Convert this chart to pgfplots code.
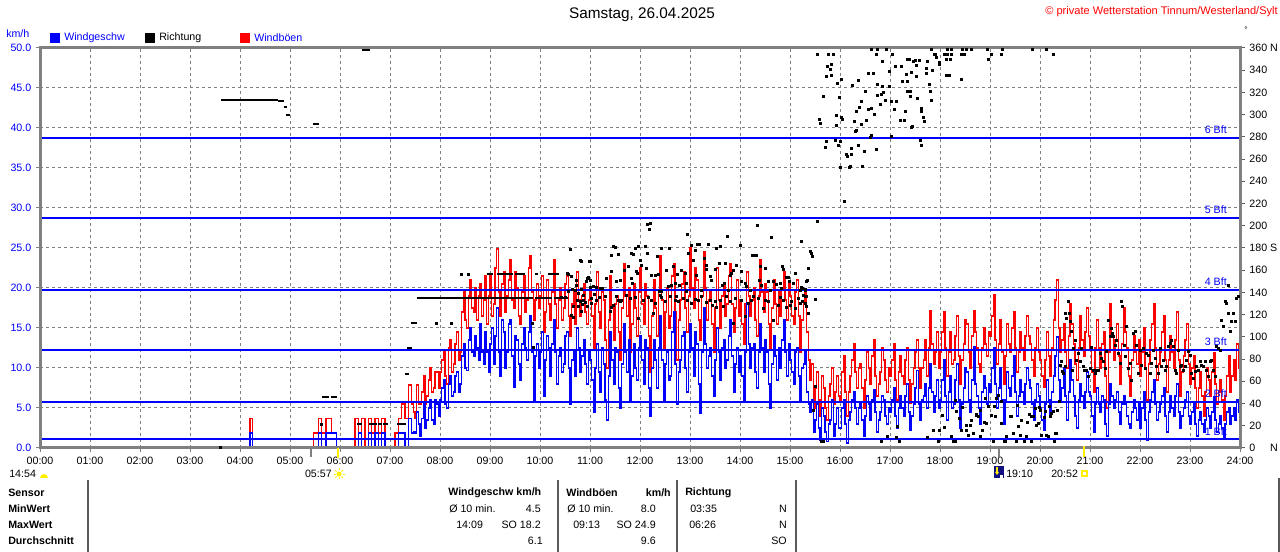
\documentclass[border=0pt]{standalone}
\usepackage{pgfplots}
\pgfplotsset{compat=1.18}
\usepackage{pgfplotstable}
\usepackage{fontspec}
\setmainfont{Liberation Sans}
\definecolor{wblue}{RGB}{0,0,255}
\definecolor{wred}{RGB}{255,0,0}
\definecolor{wgray}{RGB}{128,128,128}
\definecolor{wnavy}{RGB}{16,16,128}
\definecolor{wsun}{RGB}{255,240,0}
\definecolor{wline}{RGB}{90,90,90}

% time in minutes, gusts (r) and mean speed (b) in km/h
\pgfplotstableread[row sep=\\]{
t r b\\
0 0 0\\ 250 0 0\\ 252 3.7 1.9\\ 255 0 0\\ 326 0 0\\
328 1.9 0\\ 334 3.7 1.9\\ 338 1.9 0\\ 343 3.7 1.9\\ 350 1.9 1.9\\ 356 0 0\\
378 3.7 0\\ 382 1.9 1.9\\ 386 3.7 0\\ 390 0 0\\ 394 3.7 1.9\\ 398 1.9 0\\ 402 3.7 1.9\\ 406 1.9 0\\ 410 3.7 1.9\\ 414 0 0\\
426 1.9 0\\ 430 3.7 1.9\\ 434 5.5 1.9\\ 438 3.7 0\\ 442 7.9 3.7\\ 446 5.5 1.9\\
448 4.5 2.0\\ 450 3.7 1.9\\ 452 7.9 4.5\\ 454 5.5 3.0\\ 456 5.5 1.5\\ 458 7.0 3.7\\ 460 9.0 5.5\\ 462 5.5 2.5\\ 464 6.5 3.5\\ 466 8.5 5.0\\ 468 10.0 6.0\\ 470 7.0 3.5\\ 472 7.5 3.0\\ 474 9.5 6.0\\ 476 9.5 5.5\\ 478 7.5 4.0\\
480 9.5 6.0\\ 482 11.0 7.5\\ 484 12.2 8.5\\ 486 9.0 5.5\\ 488 8.0 5.0\\ 490 12.5 8.0\\ 492 13.5 9.0\\ 494 9.5 6.5\\ 496 10.5 7.0\\ 498 13.0 9.0\\ 500 14.5 9.5\\ 502 11.0 7.0\\ 504 12.0 8.0\\ 506 17.0 11.5\\ 508 19.5 13.0\\ 510 16.0 10.0\\ 512 15.0 9.7\\ 514 19.0 13.5\\ 516 21.0 15.0\\ 518 17.5 12.0\\ 520 17.0 11.5\\ 522 20.0 14.0\\ 524 16.0 12.5\\ 526 19.0 11.0\\ 528 20.5 15.5\\ 530 16.5 12.0\\ 532 18.5 10.5\\ 534 21.5 14.5\\ 536 15.5 12.0\\ 538 19.0 9.5\\
540 21.5 13.0\\ 542 16.5 15.0\\ 544 18.0 10.5\\ 546 22.5 14.0\\ 548 24.9 17.5\\ 550 19.5 12.0\\ 552 16.5 9.0\\ 554 20.5 16.0\\ 556 22.0 14.5\\ 558 17.0 10.0\\ 560 19.0 12.0\\ 562 21.0 15.5\\ 564 23.5 16.0\\ 566 18.5 11.5\\ 568 17.5 7.6\\ 570 22.0 14.0\\ 572 20.0 13.5\\ 574 16.5 10.5\\ 576 15.5 8.5\\ 578 19.5 13.0\\ 580 21.5 15.0\\ 582 17.0 12.5\\ 584 18.5 11.0\\ 586 22.5 14.5\\ 588 24.0 16.5\\ 590 19.5 12.0\\ 592 16.0 5.7\\ 594 18.5 11.5\\ 596 20.5 13.0\\ 598 17.5 10.0\\
600 19.0 12.0\\ 602 21.5 14.5\\ 604 14.5 6.5\\ 606 17.0 11.0\\ 608 21.0 14.0\\ 610 18.0 12.5\\ 612 16.0 9.0\\ 614 19.5 13.0\\ 616 23.5 16.0\\ 618 18.0 12.0\\ 620 15.0 8.0\\ 622 18.5 11.5\\ 624 20.0 12.5\\ 626 16.0 9.5\\ 628 17.5 10.5\\ 630 20.5 14.0\\ 632 21.5 14.5\\ 634 16.5 10.0\\ 636 14.0 5.5\\ 638 18.0 11.0\\ 640 19.5 12.0\\ 642 15.5 9.0\\ 644 22.0 15.0\\ 646 18.5 12.5\\ 648 16.5 9.5\\ 650 19.0 11.5\\ 652 20.5 13.5\\ 654 17.0 10.5\\ 656 15.5 8.0\\ 658 18.5 12.0\\
660 20.0 11.0\\ 662 16.5 8.5\\ 664 12.5 4.5\\ 666 18.0 10.0\\ 668 22.0 13.0\\ 670 17.0 9.5\\ 672 15.0 7.0\\ 674 19.5 12.5\\ 676 18.5 10.5\\ 678 13.5 6.0\\ 680 10.0 3.5\\ 682 16.0 9.0\\ 684 21.5 14.5\\ 686 17.5 11.0\\ 688 13.5 8.0\\ 690 18.0 12.5\\ 692 19.0 12.0\\ 694 14.5 7.5\\ 696 11.0 5.0\\ 698 17.5 10.5\\ 700 23.0 15.5\\ 702 19.0 12.0\\ 704 16.5 9.5\\ 706 20.0 13.5\\ 708 12.0 6.0\\ 710 15.5 9.0\\ 712 20.5 13.0\\ 714 17.5 10.0\\ 716 14.0 8.5\\ 718 19.5 12.5\\
720 22.5 14.0\\ 722 18.0 11.0\\ 724 15.5 8.0\\ 726 20.5 13.5\\ 728 19.0 12.5\\ 730 14.0 7.5\\ 732 9.5 4.0\\ 734 16.5 10.0\\ 736 21.0 13.5\\ 738 17.5 11.0\\ 740 14.0 7.5\\ 742 19.5 12.5\\ 744 24.0 16.5\\ 746 18.5 11.0\\ 748 12.5 6.0\\ 750 17.0 10.5\\ 752 20.0 12.0\\ 754 15.0 8.5\\ 756 16.5 9.0\\ 758 21.5 14.5\\ 760 23.0 17.0\\ 762 17.0 10.5\\ 764 11.0 5.5\\ 766 16.0 9.5\\ 768 18.5 11.0\\ 770 20.5 14.0\\ 772 22.0 14.5\\ 774 17.5 10.0\\ 776 14.5 7.0\\ 778 19.0 12.0\\
780 25.0 15.5\\ 782 20.0 12.5\\ 784 17.5 9.0\\ 786 22.5 14.5\\ 788 21.0 13.0\\ 790 16.0 8.0\\ 792 13.5 4.4\\ 794 19.0 12.0\\ 796 24.5 17.5\\ 798 20.0 13.0\\ 800 16.0 10.0\\ 802 18.5 11.5\\ 804 19.5 12.5\\ 806 15.5 9.0\\ 808 12.0 6.5\\ 810 17.5 11.0\\ 812 22.5 15.0\\ 814 18.5 12.0\\ 816 15.0 8.5\\ 818 19.0 12.5\\ 820 20.5 13.5\\ 822 16.5 10.0\\ 824 18.0 11.0\\ 826 21.5 14.0\\ 828 23.0 16.0\\ 830 18.0 11.5\\ 832 14.5 7.0\\ 834 17.5 10.5\\ 836 21.0 12.5\\ 838 16.5 9.5\\
840 18.5 11.5\\ 842 15.5 9.0\\ 844 13.0 6.0\\ 846 18.0 12.0\\ 848 22.0 18.2\\ 850 19.0 13.0\\ 852 16.5 10.0\\ 854 18.5 12.5\\ 856 20.0 13.0\\ 858 16.0 9.5\\ 860 14.0 7.5\\ 862 19.0 12.0\\ 864 23.5 15.5\\ 866 19.5 12.5\\ 868 17.0 9.5\\ 870 20.5 13.5\\ 872 19.5 12.0\\ 874 15.5 8.0\\ 876 12.5 5.0\\ 878 17.5 10.5\\ 880 21.0 14.0\\ 882 18.0 11.5\\ 884 15.5 8.5\\ 886 19.5 12.5\\ 888 16.5 10.0\\ 890 20.0 13.5\\ 892 22.0 16.0\\ 894 18.5 12.0\\ 896 16.0 9.0\\ 898 20.5 13.0\\
900 19.0 11.0\\ 902 16.5 9.5\\ 904 15.5 8.0\\ 906 19.5 12.0\\ 908 21.0 12.5\\ 910 16.5 9.0\\ 912 12.0 6.0\\ 914 16.0 10.0\\ 916 18.0 10.5\\ 918 19.5 12.0\\ 920 14.5 7.0\\ 922 11.0 5.5\\ 924 8.5 4.5\\ 926 10.5 6.0\\ 928 5.0 2.0\\ 930 7.5 3.5\\ 932 9.5 5.5\\ 934 6.0 2.5\\ 936 4.0 1.0\\ 938 9.0 5.0\\ 940 7.5 4.0\\ 942 5.0 2.0\\ 944 3.5 0.8\\ 946 6.5 3.0\\ 948 8.0 3.5\\ 950 10.0 6.0\\ 952 5.5 1.5\\ 954 7.0 3.0\\ 956 9.0 5.0\\ 958 6.5 2.5\\
960 6.0 2.5\\ 962 9.5 5.0\\ 964 11.5 6.0\\ 966 7.0 3.0\\ 968 4.0 0.6\\ 970 7.0 3.5\\ 972 9.0 4.5\\ 974 11.0 6.0\\ 976 13.0 7.0\\ 978 9.5 5.0\\ 980 7.5 3.0\\ 982 10.0 5.0\\ 984 10.5 5.5\\ 986 7.5 3.5\\ 988 5.0 1.5\\ 990 8.5 4.0\\ 992 12.0 6.5\\ 994 10.0 5.5\\ 996 8.0 3.5\\ 998 11.5 6.0\\ 1000 13.5 7.3\\ 1002 9.0 4.5\\ 1004 6.5 2.0\\ 1006 8.0 3.5\\ 1008 9.5 4.5\\ 1010 12.5 6.5\\ 1012 11.0 6.0\\ 1014 8.5 4.0\\ 1016 7.0 3.0\\ 1018 10.0 5.0\\
1020 9.0 4.5\\ 1022 11.0 6.0\\ 1024 13.0 7.5\\ 1026 8.5 4.0\\ 1028 6.0 2.5\\ 1030 9.5 5.0\\ 1032 11.5 6.5\\ 1034 9.0 5.0\\ 1036 8.0 4.0\\ 1038 11.0 6.5\\ 1040 12.5 8.0\\ 1042 8.5 4.5\\ 1044 5.6 2.2\\ 1046 8.0 4.0\\ 1048 10.0 5.5\\ 1050 12.0 7.5\\ 1052 13.5 9.7\\ 1054 10.0 5.5\\ 1056 7.5 3.5\\ 1058 10.0 6.0\\ 1060 11.0 6.5\\ 1062 13.5 8.0\\ 1064 9.0 5.0\\ 1066 12.5 7.5\\ 1068 17.2 10.5\\ 1070 13.0 7.0\\ 1072 10.5 4.5\\ 1074 12.0 6.5\\ 1076 14.5 8.5\\ 1078 10.0 5.0\\
1080 12.0 6.0\\ 1082 14.5 8.5\\ 1084 17.0 11.0\\ 1086 12.5 6.5\\ 1088 9.0 3.5\\ 1090 12.0 7.0\\ 1092 14.5 9.0\\ 1094 10.5 5.0\\ 1096 11.0 5.5\\ 1098 14.0 8.5\\ 1100 16.5 10.5\\ 1102 11.5 6.0\\ 1104 8.0 2.5\\ 1106 11.0 5.5\\ 1108 13.0 7.5\\ 1110 16.0 10.0\\ 1112 15.5 9.5\\ 1114 12.0 6.0\\ 1116 10.0 4.5\\ 1118 14.0 8.5\\ 1120 17.2 12.6\\ 1122 14.5 8.0\\ 1124 12.5 6.5\\ 1126 10.5 5.0\\ 1128 9.5 3.0\\ 1130 12.5 7.0\\ 1132 15.0 9.0\\ 1134 13.0 7.5\\ 1136 11.5 5.5\\ 1138 14.5 8.0\\
1140 14.0 7.0\\ 1142 16.5 10.0\\ 1144 19.1 12.5\\ 1146 13.5 8.0\\ 1148 10.5 5.0\\ 1150 13.0 7.5\\ 1152 16.0 10.0\\ 1154 12.0 6.0\\ 1156 8.0 3.0\\ 1158 11.5 6.0\\ 1160 15.5 9.5\\ 1162 13.0 7.5\\ 1164 12.0 6.5\\ 1166 15.0 9.0\\ 1168 17.0 11.5\\ 1170 12.5 7.0\\ 1172 9.5 4.0\\ 1174 12.0 6.5\\ 1176 14.5 8.5\\ 1178 12.5 7.0\\ 1180 11.0 5.5\\ 1182 14.0 8.0\\ 1184 16.5 10.0\\ 1186 14.0 8.5\\ 1188 13.0 7.5\\ 1190 11.0 5.5\\ 1192 9.0 3.5\\ 1194 12.5 6.0\\ 1196 15.0 8.0\\ 1198 12.0 6.5\\
1200 11.0 5.0\\ 1202 9.0 3.5\\ 1204 7.6 2.2\\ 1206 11.0 5.5\\ 1208 14.5 8.5\\ 1210 11.5 6.0\\ 1212 9.0 4.0\\ 1214 12.5 7.0\\ 1216 16.0 9.0\\ 1218 18.5 11.5\\ 1220 21.0 13.9\\ 1222 15.0 8.5\\ 1224 12.0 6.0\\ 1226 13.5 7.5\\ 1228 15.5 10.0\\ 1230 12.0 6.5\\ 1232 10.0 3.5\\ 1234 14.0 7.0\\ 1236 18.0 11.0\\ 1238 15.5 8.5\\ 1240 13.0 6.5\\ 1242 10.5 4.0\\ 1244 8.5 2.5\\ 1246 12.5 6.0\\ 1248 16.5 8.0\\ 1250 13.5 6.5\\ 1252 11.5 5.0\\ 1254 14.5 7.0\\ 1256 17.5 9.5\\ 1258 14.0 7.0\\
1260 12.5 6.5\\ 1262 9.5 4.0\\ 1264 7.0 2.0\\ 1266 12.5 5.5\\ 1268 16.0 7.5\\ 1270 12.5 5.5\\ 1272 10.0 4.5\\ 1274 13.0 6.5\\ 1276 14.5 6.0\\ 1278 9.0 3.0\\ 1280 5.0 1.5\\ 1282 12.0 5.5\\ 1284 18.0 8.0\\ 1286 14.0 6.5\\ 1288 11.0 5.0\\ 1290 13.5 6.0\\ 1292 15.5 7.0\\ 1294 11.5 4.5\\ 1296 8.0 3.0\\ 1298 13.0 5.5\\ 1300 17.5 6.5\\ 1302 14.5 5.5\\ 1304 12.5 4.0\\ 1306 9.0 3.0\\ 1308 6.5 2.5\\ 1310 11.0 4.5\\ 1312 14.0 6.0\\ 1314 12.0 5.0\\ 1316 10.5 3.5\\ 1318 13.5 5.5\\
1320 9.0 2.5\\ 1322 12.0 5.0\\ 1324 15.0 7.0\\ 1326 10.0 3.5\\ 1328 6.0 1.0\\ 1330 10.5 4.5\\ 1332 13.5 6.0\\ 1334 15.5 7.0\\ 1336 18.0 8.5\\ 1338 12.5 5.5\\ 1340 8.5 3.5\\ 1342 10.5 4.5\\ 1344 12.0 5.5\\ 1346 14.5 6.5\\ 1348 16.5 7.5\\ 1350 11.0 4.0\\ 1352 7.0 2.0\\ 1354 11.0 4.5\\ 1356 14.0 6.5\\ 1358 12.0 5.0\\ 1360 10.0 4.0\\ 1362 13.5 6.5\\ 1364 17.0 8.0\\ 1366 11.0 4.5\\ 1368 6.5 2.5\\ 1370 9.5 4.0\\ 1372 11.5 5.0\\ 1374 13.5 6.0\\ 1376 15.5 7.0\\ 1378 10.5 4.0\\
1380 8.0 3.0\\ 1382 10.0 4.5\\ 1384 11.5 5.5\\ 1386 7.5 3.0\\ 1388 5.0 1.5\\ 1390 7.5 3.5\\ 1392 9.5 4.5\\ 1394 6.5 3.0\\ 1396 4.0 2.0\\ 1398 7.0 3.5\\ 1400 10.0 5.0\\ 1402 8.5 4.0\\ 1404 6.5 2.5\\ 1406 9.5 4.5\\ 1408 11.9 6.4\\ 1410 8.0 3.5\\ 1412 5.5 2.0\\ 1414 7.0 3.0\\ 1416 8.5 4.0\\ 1418 6.0 2.5\\ 1420 3.5 1.4\\ 1422 6.5 3.0\\ 1424 9.0 4.5\\ 1426 11.5 5.0\\ 1428 7.0 3.0\\ 1430 9.0 4.0\\ 1432 11.0 5.0\\ 1434 8.5 3.5\\ 1436 13.0 6.0\\ 1438 10.0 4.5\\ 1440 10.0 4.5\\
}\windtab

% time in minutes, wind direction in degrees (single readings)
\pgfplotstableread[row sep=\\]{
t d\\
216 1\\ 338 21.6\\ 476 112.2\\ 494 112.2\\ 506 156.6\\ 514 156.6\\ 592 90.3\\ 590.8 112.2\\
648.8 168.6\\ 659.2 167.7\\ 634 156.3\\ 638 154.8\\ 643.2 150.6\\ 644 146.1\\ 639.2 143.1\\ 650 143.1\\ 656 149.7\\ 658 153.3\\ 660 151.2\\ 664 145.2\\ 668 144.3\\ 642 142.2\\ 646 139.2\\ 652 137.7\\ 645.2 132.6\\ 654 131.1\\ 651.2 129.6\\ 656.8 127.2\\ 662 134.7\\ 667.2 133.2\\ 638 119.7\\ 640 117.6\\ 649.2 123.3\\
636 179.1\\ 649.2 168.3\\ 633.2 157.2\\ 655.2 149.7\\ 660 167.7\\ 657.2 152.7\\ 660.8 144.3\\ 667.2 144.3\\ 672 143.7\\ 674.8 143.7\\ 680 152.7\\ 686 159.3\\ 688 181.2\\ 690 180.6\\ 685.2 173.1\\ 694 174.3\\ 692 149.7\\ 696 150.6\\ 701.2 160.2\\ 706 163.2\\ 710 175.2\\ 712 174.6\\ 714 179.7\\ 716 158.7\\ 718 181.2\\ 710 152.7\\ 711.2 148.2\\ 716.8 157.2\\ 720 168.6\\ 721.2 164.7\\ 726 181.8\\ 727.2 161.7\\ 728.8 175.2\\ 731.2 196.8\\ 728.8 201.6\\ 732 202.2\\ 734 155.7\\ 738 155.7\\ 740.8 172.2\\ 742 156.3\\ 745.2 179.7\\ 743.2 141.3\\ 745.2 141.3\\ 752 160.2\\ 755.2 179.7\\ 754 145.2\\ 758 146.1\\ 760 163.2\\ 762 148.2\\ 765.2 156.3\\ 767.2 146.7\\ 770 160.2\\ 774 157.2\\ 775.2 148.2\\ 777.2 192.6\\ 778 175.2\\ 776 140.7\\ 781.2 182.7\\ 784 169.2\\ 786 178.2\\ 788 155.7\\ 789.2 183\\ 791.2 183.3\\ 794 142.2\\ 796.8 170.7\\ 800 164.7\\ 799.2 160.8\\ 802 183.3\\ 804.8 154.2\\ 806 151.2\\ 810 160.8\\ 812 179.7\\ 815.2 166.2\\ 816 181.2\\ 818.8 146.7\\ 821.2 148.2\\ 822 166.2\\ 825.2 190.2\\ 826 142.2\\ 828 155.7\\ 830 157.2\\ 832 160.2\\ 836 164.7\\ 840 182.1\\ 842 158.7\\ 841.2 149.7\\ 846 148.2\\ 848 145.8\\ 852.8 142.2\\ 855.2 173.1\\ 858 173.7\\ 860 173.7\\ 861.2 200.1\\ 863.2 151.2\\ 866 146.7\\ 864 163.2\\ 870 161.7\\ 874 149.7\\ 876 142.2\\ 878 189.3\\ 880 149.7\\ 884 147.3\\ 888 148.2\\ 890 143.7\\ 891.2 163.2\\ 892 160.8\\ 896 153.6\\ 898 153.3\\ 899.2 149.7\\ 904 148.2\\ 906 157.2\\ 912 142.2\\ 914 186.3\\ 915.2 143.7\\ 918 143.1\\ 920 150.3\\ 922 161.7\\ 924 176.7\\ 926 175.2\\ 926.8 172.8\\ 933.2 203.7\\
626 135.3\\ 630 135.3\\ 634 140.7\\ 640 127.2\\ 646 127.2\\ 648 132.3\\ 652 133.2\\ 662 130.2\\ 665.2 138.6\\ 671.2 135.3\\ 678 136.2\\ 684 122.7\\ 686 126.6\\ 688 128.1\\ 692 136.2\\ 694 133.2\\ 696 131.7\\ 698 133.2\\ 704 137.7\\ 708 134.7\\ 714 135.3\\ 718 116.7\\ 724 133.2\\ 730 135.3\\ 734 133.2\\ 736 121.2\\ 738 130.2\\ 744 137.7\\ 746 135.6\\ 750 131.7\\ 756 136.2\\ 762 133.2\\ 764 136.2\\ 766 132.3\\ 772 134.7\\ 777.2 133.2\\ 782 130.2\\ 786 133.8\\ 790 133.2\\ 794 136.2\\ 800 130.8\\ 804 133.2\\ 807.2 128.7\\ 810 131.7\\ 812 126.6\\ 816 133.2\\ 820 127.2\\ 824 136.2\\ 828 131.7\\ 832 112.2\\ 834 134.7\\ 842 132.6\\ 846 118.2\\ 850 130.2\\ 854 133.2\\ 856 136.8\\ 862 134.7\\ 868 125.7\\ 870 133.2\\ 874 131.7\\ 880 115.2\\ 886 128.7\\ 888 135.6\\ 892 133.2\\ 896 126.6\\ 900 128.7\\ 902 131.7\\ 906 125.7\\ 910 134.7\\ 912 130.2\\ 918 136.2\\ 920 127.2\\ 922 121.2\\ 930 134.1\\
914 144.3\\ 916 137.7\\ 918 142.2\\ 920 136.2\\ 920.8 150.6\\ 922 121.2\\ 918 130.2\\ 915.2 131.7\\ 930 133.8\\ 930 55.2\\ 928 34.2\\
938 5.7\\ 940 5.7\\ 1010 5.7\\ 1017.2 10.2\\ 1029.2 19.2\\ 1031.2 5.7\\ 1027.2 9.3\\ 1065.2 9.3\\ 1072 15.6\\ 1077.6 6\\ 1078.8 15.6\\ 1083.2 29.1\\ 1085.2 18.6\\ 1094 10.2\\ 1096 5.7\\ 1098 5.7\\ 1098.8 43.2\\ 1100 32.7\\ 1103.2 26.7\\ 1106 15.6\\ 1107.2 36.6\\ 1111.2 16.2\\ 1112 20.7\\ 1114 11.1\\ 1116 20.4\\ 1118 25.2\\ 1120 13.2\\ 1123.2 29.1\\ 1124 30.6\\ 1126 28.2\\ 1128 10.8\\ 1128.8 34.2\\ 1131.2 16.2\\ 1132.8 22.8\\ 1134 44.7\\ 1136 22.2\\ 1138 37.2\\ 1141.2 29.7\\ 1144 5.7\\ 1145.2 37.2\\ 1146.8 28.2\\ 1148 44.7\\ 1150 47.7\\ 1153.2 22.2\\ 1154 41.7\\ 1157.2 5.7\\ 1158.8 5.7\\ 1160 10.2\\ 1164 28.8\\ 1165.2 28.2\\ 1168 13.2\\ 1171.2 5.7\\ 1172.8 38.7\\ 1174 19.2\\ 1176 11.1\\ 1178 25.2\\ 1180.8 5.7\\ 1184 10.2\\ 1185.2 22.8\\ 1187.2 30.3\\ 1189.2 28.2\\ 1190 5.7\\ 1194 35.7\\ 1196 20.7\\ 1198 22.2\\ 1199.2 36.6\\
1192 28.8\\ 1200 34.2\\ 1202 11.1\\ 1205.2 27.3\\ 1206.8 32.7\\ 1208 11.7\\ 1210 10.2\\ 1210.8 37.2\\ 1212 28.2\\ 1214 31.2\\ 1216 32.7\\ 1216.8 5.7\\ 1218 13.2\\ 1219.2 13.2\\ 1221.2 34.2\\ 1222.8 41.7\\ 1224 74.7\\ 1226 77.7\\ 1226.8 68.7\\ 1228 67.2\\ 1230 73.2\\ 1230.8 121.2\\ 1232 116.7\\ 1234 132.3\\ 1234.8 121.2\\ 1236 113.7\\ 1238 104.7\\ 1238.8 70.2\\ 1240 89.7\\ 1242 97.2\\ 1244 79.2\\ 1246 85.2\\ 1248 77.7\\ 1250 89.7\\ 1252 73.2\\ 1253.2 70.2\\ 1256 70.2\\ 1258 64.2\\ 1260 71.7\\ 1262 90.6\\ 1264 70.2\\ 1266 67.2\\ 1268 70.2\\ 1270 70.2\\ 1272 85.2\\ 1274 80.7\\ 1276 77.7\\ 1278 71.7\\ 1280 86.7\\ 1282 115.2\\ 1284 100.2\\ 1285.2 107.7\\ 1286.8 103.2\\ 1288 100.2\\ 1290 92.7\\ 1292 97.2\\ 1294 85.2\\ 1296 76.2\\ 1298 131.7\\ 1299.2 127.2\\ 1300.8 92.7\\ 1302 82.2\\ 1304 109.2\\ 1306 71.7\\ 1308 76.2\\ 1310 61.2\\ 1312 103.2\\ 1314 104.7\\ 1316 92.7\\ 1318 67.2\\ 1320 88.2\\ 1322 74.7\\ 1324 89.7\\ 1326 71.7\\ 1328 85.2\\ 1330 83.7\\ 1332 67.2\\ 1334 76.2\\ 1336 88.2\\ 1338 80.7\\ 1340 73.2\\ 1342 67.2\\ 1344 89.7\\ 1346 73.2\\ 1348 79.2\\ 1350 70.2\\ 1352 73.2\\ 1354 91.2\\ 1356 94.2\\ 1358 97.2\\ 1360 91.2\\ 1362 70.2\\ 1364 67.2\\ 1366 88.2\\ 1368 73.2\\ 1370 74.7\\ 1372 70.2\\ 1374 73.2\\ 1376 79.2\\ 1378 86.7\\ 1380 83.7\\ 1382 67.2\\ 1384 62.7\\ 1386 68.7\\ 1388 73.2\\ 1390 70.2\\ 1392 77.7\\ 1394 74.7\\ 1396 73.2\\ 1398 77.7\\ 1400 70.2\\ 1402 64.2\\ 1404 77.7\\ 1406 79.2\\ 1408 70.2\\ 1410 64.2\\ 1412 91.2\\ 1414 89.7\\ 1416 88.2\\ 1418 115.2\\ 1420 109.2\\ 1422 131.7\\ 1424 130.2\\ 1426 121.2\\ 1428 104.7\\ 1430 113.7\\ 1432 121.2\\ 1434 113.7\\ 1436 134.7\\ 1438 136.2\\ 1426 146.7\\
933.2 354.6\\ 946 354.6\\ 952 354.6\\ 945.2 343.8\\ 950 345.6\\ 948 341.1\\ 944 334.2\\ 949.2 335.7\\ 962 331.8\\ 957.2 327.9\\ 940 316.8\\ 959.2 315.3\\ 975.2 326.1\\ 982 331.2\\ 990 321.3\\ 985.2 312.3\\ 983.2 306.3\\ 980 302.7\\ 994 305.1\\ 998 306\\ 1001.2 300\\ 992 295.2\\ 986 291.3\\ 976.8 293.7\\ 962 297.3\\ 963.2 296.1\\ 956 299.7\\ 955.2 290.1\\ 934.8 296.1\\ 936 291.9\\ 979.2 286.2\\ 978 284.7\\ 997.2 281.7\\ 996 279.6\\ 943.2 275.7\\ 954 276.6\\ 960 275.7\\ 942 270.9\\ 958 272.7\\ 974 270\\ 982 272.7\\ 988.8 266.7\\ 1003.2 269.1\\ 968 264.3\\ 974 264.6\\ 968.8 262.2\\ 960.8 252.3\\ 971.2 252.6\\ 972.8 253.2\\ 987.2 253.8\\ 965.2 222.3\\
997.2 359.1\\ 1004.8 359.1\\ 1016 359.1\\ 1004 354.6\\ 1010.4 348.3\\ 1023.2 354.6\\ 1026 343.2\\ 1034 343.2\\ 1018.8 338.7\\ 994 336.9\\ 1000 336.9\\ 1005.2 327.3\\ 1011.2 325.2\\ 1019.2 325.2\\ 1012 320.1\\ 1009.2 318.6\\ 1005.2 317.1\\ 1014 313.2\\ 1022 311.7\\ 1028 312.3\\ 1008 309.3\\ 1025.2 304.5\\ 1038 302.7\\ 1032.8 294.6\\ 1036.8 294.6\\ 1047.2 289.8\\ 1046 288.3\\ 1022 280.2\\ 1039.2 336.6\\ 1035.2 329.7\\ 1041.2 329.7\\ 1045.2 338.1\\ 1051.2 334.8\\ 1048 347.7\\ 1050 348.6\\ 1054.8 349.2\\ 1041.2 350.1\\ 1043.2 350.1\\ 1051.2 344.1\\ 1063.2 342\\ 1065.2 347.7\\ 1071.2 340.2\\ 1063.2 337.2\\ 1076 351.6\\ 1079.2 345.3\\ 1079.2 346.8\\ 1072.8 354.6\\ 1074.8 354.6\\ 1067.2 327.3\\ 1068 321.3\\ 1069.2 313.2\\ 1053.2 314.7\\ 1044 316.2\\ 1041.2 320.7\\ 1044.8 321.3\\ 1058 305.7\\ 1058 303.3\\ 1060 297.3\\ 1060.8 294.3\\ 1056 277.2\\ 1057.2 272.7\\ 1084.8 354.6\\ 1089.2 354.6\\ 1093.2 354.6\\ 1088 349.8\\ 1092 350.1\\ 1087.2 335.1\\ 1090.8 335.1\\ 1105.2 354.6\\ 1109.2 354.6\\ 1106 331.8\\ 1138.4 349.8\\ 1142 354.6\\ 1154 354.6\\ 1216.4 354.6\\
1070 359.1\\ 1089.2 359.1\\ 1094 359.1\\ 1107.2 359.1\\ 1112 359.1\\ 1118 359.1\\ 1137.2 359.1\\ 1155.2 359.1\\ 1191.2 359.1\\ 1208 359.1\\
}\dirtab

\pgfplotsset{seg/.style={draw=black, line width=1.5pt, forget plot},
  bft/.style={draw=wblue, line width=1.2pt, forget plot}}

\begin{document}
\begin{tikzpicture}[font=\fontsize{8}{9.6}\selectfont]
\path[use as bounding box] (0pt,0pt) rectangle (960pt,414pt);

% ---------- speed axis ----------
\begin{axis}[
  at={(30pt,78pt)}, anchor=south west, scale only axis,
  width=900pt, height=300pt,
  xmin=0, xmax=1440, ymin=0, ymax=50,
  axis line style={draw=none},
  xtick={0,60,...,1440},
  xticklabels={00:00,01:00,02:00,03:00,04:00,05:00,06:00,07:00,08:00,09:00,10:00,11:00,12:00,13:00,14:00,15:00,16:00,17:00,18:00,19:00,20:00,21:00,22:00,23:00,24:00},
  ytick={0,5,...,50},
  yticklabel style={text=wblue, /pgf/number format/fixed, /pgf/number format/fixed zerofill, /pgf/number format/precision=1},
  /pgf/number format/assume math mode=true,
  tick pos=left, tick align=outside, major tick length=3pt,
  tick style={draw=wgray, line width=0.75pt},
  grid=major, major grid style={dash pattern=on 2.25pt off 2.25pt, draw=wgray, line width=0.75pt},
]
% gusts and mean speed
\addplot[const plot, draw=wred, line width=1.125pt, mark=none] table[x=t, y=r] {\windtab};
\addplot[const plot, draw=wblue, line width=1.125pt, mark=none] table[x=t, y=b] {\windtab};
% Beaufort limits
\addplot[bft] coordinates {(0,38.75) (1440,38.75)};
\addplot[bft] coordinates {(0,28.75) (1440,28.75)};
\addplot[bft] coordinates {(0,19.75) (1440,19.75)};
\addplot[bft] coordinates {(0,12.25) (1440,12.25)};
\addplot[bft] coordinates {(0,5.75) (1440,5.75)};
\addplot[bft] coordinates {(0,1.125) (1440,1.125)};
\end{axis}

% ---------- direction axis ----------
\begin{axis}[
  at={(30pt,78pt)}, anchor=south west, scale only axis,
  width=900pt, height=300pt,
  xmin=0, xmax=1440, ymin=0, ymax=360,
  axis x line=none, axis y line*=right,
  axis line style={draw=none},
  ytick={0,20,...,360},
  yticklabels={\makebox[15.5pt][l]{0}N,20,40,60,80,100,120,140,160,\makebox[15.5pt][l]{180}S,200,220,240,260,280,300,320,340,\makebox[15.5pt][l]{360}N},
  tick align=outside, major tick length=3.5pt,
  tick style={draw=wline, line width=0.75pt},
  clip=false,
]
\addplot[only marks, mark=square*, mark size=0.75pt, draw=black, fill=black] table[x=t, y=d] {\dirtab};
\addplot[seg] coordinates {(217,313.5) (286,313.5)};
\addplot[seg] coordinates {(286,312) (293,312)};
\addplot[seg] coordinates {(293,307) (296,307)};
\addplot[seg] coordinates {(295,300) (300,300)};
\addplot[seg] coordinates {(328,291.6) (335,291.6)};
\addplot[seg] coordinates {(386,358.5) (396,358.5)};
\addplot[seg] coordinates {(338,45.6) (347,45.6)};
\addplot[seg] coordinates {(349,45.6) (356,45.6)};
\addplot[seg] coordinates {(380,21.6) (386,21.6)};
\addplot[seg] coordinates {(395,21.6) (404,21.6)};
\addplot[seg] coordinates {(406,21.6) (410,21.6)};
\addplot[seg] coordinates {(412,21.6) (418,21.6)};
\addplot[seg] coordinates {(428,21.6) (439,21.6)};
\addplot[seg] coordinates {(438,66.6) (443,66.6)};
\addplot[seg] coordinates {(440,90.3) (446,90.3)};
\addplot[seg] coordinates {(445,112.2) (452,112.2)};
\addplot[seg] coordinates {(452,135.3) (592,135.3)};
\addplot[seg] coordinates {(594,135.3) (614,135.3)};
\addplot[seg] coordinates {(617,135.3) (634,135.3)};
\addplot[seg] coordinates {(536,156.3) (543,156.3)};
\addplot[seg] coordinates {(548,156.3) (568,156.3)};
\addplot[seg] coordinates {(570,156.3) (582,156.3)};
\addplot[seg] coordinates {(594,156.3) (597,156.3)};
\addplot[seg] coordinates {(610,156.3) (623,156.3)};
% frame
\draw[draw=wgray, line width=2.25pt] (rel axis cs:0,0) rectangle (rel axis cs:1,1);
\end{axis}

\begin{scope}[x=0.75pt, y=0.75pt]
% Beaufort labels
\begin{scope}[every node/.style={anchor=base east, inner sep=0pt, text=wblue}]
\node at (1227,418) {6 Bft};
\node at (1227,338) {5 Bft};
\node at (1227,266) {4 Bft};
\node at (1227,206) {3 Bft};
\node at (1227,154) {2 Bft};
\node at (1227,116) {1 Bft};
\end{scope}
% ---------- header ----------
\node[font=\fontsize{11.5}{13}\selectfont] at (642,537) {Samstag, 26.04.2025};
\node[anchor=east, inner sep=0pt, text=wred, font=\fontsize{8.3}{10}\selectfont] at (1278,540) {© private Wetterstation Tinnum/Westerland/Sylt};
\node[inner sep=0pt, font=\fontsize{6}{7}\selectfont] at (1246,522) {°};
\node[anchor=west, inner sep=0pt, text=wblue] at (6,518) {km/h};
\fill[fill=wblue] (50,509) rectangle (60,519);
\node[anchor=west, inner sep=0pt, text=wblue] at (64,514) {Windgeschw};
\fill[fill=black] (145,509) rectangle (155,519);
\node[anchor=west, inner sep=0pt] at (159,514) {Richtung};
\fill[fill=wred] (240,509) rectangle (250,519);
\node[anchor=west, inner sep=0pt, text=wblue] at (254,514) {Windböen};

% ---------- sun and moon times ----------
\draw[draw=wgray, line width=1.5pt] (311,104) -- (311,95);
\draw[draw=wsun, line width=1.5pt] (338,104) -- (338,94);
\draw[draw=wgray, line width=1.5pt] (999,106) -- (999,95);
\draw[draw=wsun, line width=1.5pt] (1084,106) -- (1084,95);
\node[anchor=west, inner sep=0pt] at (9,78) {14:54};
\fill[fill=wsun] (40,74) arc (180:0:4) -- cycle;
\node[anchor=east, inner sep=0pt] at (332,78) {05:57};
\fill[fill=wsun] (339,78) circle (2.5);
\foreach \a in {0,45,...,315} \draw[draw=wsun, line width=0.6pt] ([shift={(\a:3.5)}]339,78) -- ([shift={(\a:5.5)}]339,78);
\fill[fill=wnavy] (994,74) rectangle (1004,86);
\draw[draw=wsun, line width=1pt] (997,85) -- (997,79);
\fill[fill=wsun] (995,80) -- (999,80) -- (997,77) -- cycle;
\fill[fill=white] (1000,74) rectangle (1003,77);
\node[anchor=west, inner sep=0pt] at (1006,78) {19:10};
\node[anchor=west, inner sep=0pt] at (1051,78) {20:52};
\draw[draw=wsun, line width=0.8pt] (1082,76) rectangle (1087,81);

% ---------- statistics table ----------
\begin{scope}[line width=0.9pt]
\draw[draw=wline] (88,72) -- (88,0);
\draw[draw=wline] (558,72) -- (558,0);
\draw[draw=wline] (677,72) -- (677,0);
\draw[draw=wline] (796,72) -- (796,0);
\draw[draw=wline] (1279,74) -- (1279,0);
\end{scope}
\begin{scope}[every node/.style={inner sep=0pt}]
\node[anchor=west, font=\fontsize{8}{9.6}\selectfont\bfseries] at (8,59) {Sensor};
\node[anchor=west, font=\fontsize{8}{9.6}\selectfont\bfseries] at (8,43) {MinWert};
\node[anchor=west, font=\fontsize{8}{9.6}\selectfont\bfseries] at (8,27) {MaxWert};
\node[anchor=west, font=\fontsize{8}{9.6}\selectfont\bfseries] at (8,11) {Durchschnitt};
\node[anchor=west, font=\fontsize{8}{9.6}\selectfont\bfseries] at (448,59) {Windgeschw km/h};
\node[anchor=west, font=\fontsize{8}{9.6}\selectfont\bfseries] at (566,59) {Windböen};
\node[anchor=east, font=\fontsize{8}{9.6}\selectfont\bfseries] at (671,59) {km/h};
\node[anchor=west, font=\fontsize{8}{9.6}\selectfont\bfseries] at (685,59) {Richtung};
\node[anchor=west] at (449,43) {Ø 10 min.};
\node[anchor=east] at (541,43) {4.5};
\node[anchor=west] at (567,43) {Ø 10 min.};
\node[anchor=east] at (656,43) {8.0};
\node[anchor=west] at (690,43) {03:35};
\node[anchor=east] at (787,43) {N};
\node[anchor=west] at (456,27) {14:09};
\node[anchor=east] at (541,27) {SO 18.2};
\node[anchor=west] at (573,27) {09:13};
\node[anchor=east] at (656,27) {SO 24.9};
\node[anchor=west] at (689,27) {06:26};
\node[anchor=east] at (787,27) {N};
\node[anchor=east] at (543,11) {6.1};
\node[anchor=east] at (656,11) {9.6};
\node[anchor=east] at (787,11) {SO};
\end{scope}
\end{scope}
\end{tikzpicture}
\end{document}
